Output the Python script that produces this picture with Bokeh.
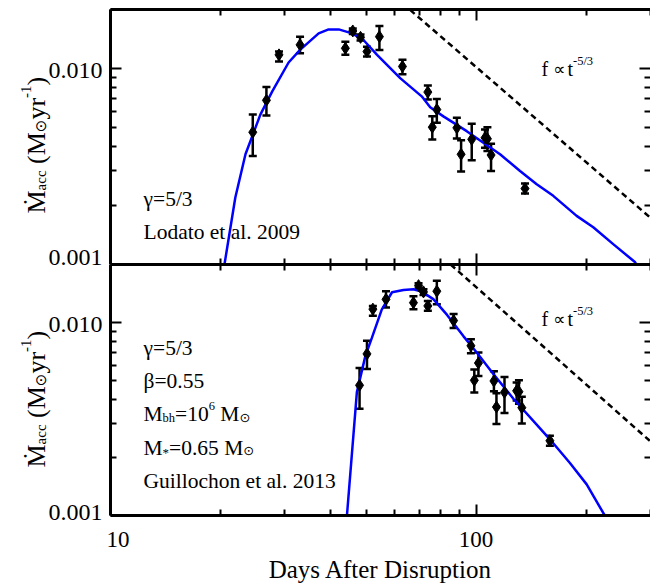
import math
from bokeh.plotting import figure
from bokeh.layouts import column, row
from bokeh.models import (Range1d, LogAxis, LogScale, FixedTicker, PrintfTickFormatter, Whisker,
                          TeeHead, ColumnDataSource, Label)
from bokeh.embed import file_html
from bokeh.resources import INLINE

# ---------------- data ----------------
days_top = [24.5, 26.7, 28.9, 33.0, 43.9, 46.0, 48.3, 50.3, 54.4, 62.9,
            73.8, 75.9, 78.1, 88.6, 91.0, 97.3, 105.8, 107.4, 109.9, 136.1]
days_bot = [48.0, 50.3, 52.2, 56.7, 67.4, 69.6, 71.8, 73.8, 78.1, 86.8,
            96.8, 98.9, 101.5, 111.9, 113.7, 119.6, 129.1, 131.0, 133.4, 159.2]
mdot_obs = [0.00473, 0.00688, 0.01174, 0.0132, 0.01268, 0.01554, 0.01442, 0.0122, 0.01454, 0.01024,
            0.00758, 0.00502, 0.00617, 0.00498, 0.00365, 0.00435, 0.00443, 0.00438, 0.00362, 0.00244]
mdot_hi = [0.00582, 0.00804, 0.0122, 0.01454, 0.01371, 0.0160, 0.0149, 0.01293, 0.01648, 0.01107,
           0.0082, 0.00571, 0.00699, 0.0056, 0.0043, 0.00522, 0.00489, 0.00502, 0.00413, 0.00259]
mdot_lo = [0.00358, 0.00575, 0.01085, 0.01196, 0.01174, 0.0150, 0.0139, 0.01151, 0.01244, 0.00936,
           0.00694, 0.00434, 0.00528, 0.0044, 0.00298, 0.0034, 0.00394, 0.00379, 0.003, 0.0023]

lodato_days = [20.35, 21.95, 23.4, 25.7, 27.7, 30.7, 33.0, 37.1, 39.5, 42.1, 45.8, 49.2, 53.6, 62.0,
               71.0, 74.9, 81.4, 94.3, 104.7, 116.3, 131.9, 146.5, 162.6, 188.4, 209.2, 237.2,
               271.9, 276.3]
lodato_mdot = [0.00092, 0.002196, 0.00365, 0.00582, 0.00764, 0.01073, 0.01245, 0.0151, 0.01583,
               0.01583, 0.0151, 0.01398, 0.01174, 0.00893, 0.00721, 0.00634, 0.0057, 0.00479,
               0.00418, 0.00365, 0.003, 0.00257, 0.00224, 0.00177, 0.00155, 0.00127, 0.00103,
               0.00098]

guil_days = [44.3, 47.2, 49.8, 51.9, 55.2, 58.9, 63.3, 67.4, 71.0, 76.4, 83.2, 92.3, 100.4,
             111.5, 126.5, 149.6, 162.6, 180.6, 200.7, 225.1, 228.0]
guil_mdot = [0.00098, 0.00436, 0.00672, 0.00835, 0.01166, 0.01436, 0.01476, 0.01488, 0.01447,
             0.01323, 0.01099, 0.00851, 0.00699, 0.00541, 0.00403, 0.00283, 0.00237, 0.00187,
             0.00145, 0.000997, 0.00093]

slope_top_days = [66.0, 300.0]
slope_top_mdot = [0.0199, 0.00173]
slope_bot_days = [85.2, 300.0]
slope_bot_mdot = [0.0200, 0.00242]

x_major = [10, 100]
x_minor = [20, 30, 40, 50, 60, 70, 80, 90, 200, 300]
x_tick_format = "%d"        # gives "10", "100"
y_major = [0.001, 0.01]
y_minor = [0.002, 0.003, 0.004, 0.005, 0.006, 0.007, 0.008, 0.009, 0.02]
y_tick_labels = ["0.001", "0.010"]
Y_LO, Y_HI = 0.001, 0.02
X_LO, X_HI = 10, 300

SERIF = "Liberation Serif"
SYM = "DejaVu Sans"

# ---------------- layout geometry (pixels) ----------------
TOTAL_H = 585
LEFT_W = 106                     # strip holding the y tick labels and y titles
FRAME_LEFT = 110
TOP_H, TOP_BT = 264, 9           # top panel canvas height / top border
BOT_H, BOT_BB = 321, 67          # bottom panel canvas height / bottom border

# advance widths (em) for placing sub/superscript pieces
W = {' ': 0.25, '(': 0.333, ')': 0.333, '-': 0.333, '.': 0.25, '/': 0.278, '=': 0.564,
     '*': 0.5, 'M': 0.889, '\u1e40': 0.889, 'a': 0.444, 'b': 0.5, 'c': 0.444, 'h': 0.5,
     'r': 0.333, 'y': 0.5, 't': 0.278, 'f': 0.333, '\u2299': 0.838, '\u221d': 0.838}
for _d in "0123456789":
    W[_d] = 0.5


def put(p, pieces, x, y, angle=0.0):
    """Place text pieces (text, size, baseline shift, font) one after another."""
    for txt, size, shift, font in pieces:
        lead = len(txt) - len(txt.lstrip(" "))
        adv_lead = W[' '] * size * lead
        if angle == 0:
            x += adv_lead
        else:
            y += adv_lead
        body = txt.strip(" ")
        if body:
            if angle == 0:
                lx, ly = x, y + shift
            else:
                lx, ly = x - shift, y
            p.add_layout(Label(x=lx, y=ly, x_units="screen", y_units="screen", text=body,
                               angle=angle, text_font=font, text_font_size=f"{size}px",
                               text_align="left", text_baseline="alphabetic",
                               text_color="black"))
        adv = sum(W.get(c, 0.5) for c in txt.lstrip(" ")) * size
        if angle == 0:
            x += adv
        else:
            y += adv


def style_axis(ax, ticks, minors, fmt, show_labels, line=True):
    ax.ticker = FixedTicker(ticks=ticks, minor_ticks=minors)
    ax.formatter = PrintfTickFormatter(format=fmt)
    ax.axis_line_width = 3
    ax.axis_line_color = "black" if line else None
    ax.major_tick_in = 11
    ax.major_tick_out = 0
    ax.minor_tick_in = 6
    ax.minor_tick_out = 0
    ax.major_tick_line_width = 2
    ax.minor_tick_line_width = 2
    ax.major_tick_line_color = "black"
    ax.minor_tick_line_color = "black"
    ax.major_label_text_font = SERIF
    ax.major_label_text_color = "black"
    if show_labels:
        ax.major_label_text_font_size = "23px"
    else:
        ax.major_label_text_font_size = "1px"
        ax.major_label_text_color = None
        ax.major_label_standoff = 0


def make_panel(height, b_top, b_bottom, show_x_labels):
    p = figure(width=650 - LEFT_W, height=height, x_axis_type="log", y_axis_type="log",
               x_range=Range1d(X_LO, X_HI), y_range=Range1d(Y_LO, Y_HI),
               output_backend="svg", toolbar_location=None,
               min_border_left=FRAME_LEFT - LEFT_W, min_border_right=0,
               min_border_top=b_top, min_border_bottom=b_bottom)
    p.outline_line_color = None
    p.xgrid.visible = False
    p.ygrid.visible = False
    top_ax = LogAxis()
    right_ax = LogAxis()
    p.add_layout(top_ax, "above")
    p.add_layout(right_ax, "right")
    style_axis(p.below[0], x_major, x_minor, x_tick_format, show_x_labels)
    style_axis(top_ax, x_major, x_minor, x_tick_format, False)
    style_axis(p.left[0], y_major, y_minor, "%.3f", False)
    style_axis(right_ax, y_major, y_minor, "%.3f", False, line=False)
    return p


def strip_range(frame_top, frame_bottom):
    """Log range of the full-height strip that matches a panel frame [frame_top, frame_bottom]."""
    dec = (frame_bottom - frame_top) / math.log10(Y_HI / Y_LO)
    hi = Y_HI * 10 ** (frame_top / dec)
    lo = Y_LO * 10 ** (-(TOTAL_H - frame_bottom) / dec)
    return Range1d(lo, hi)


strip = figure(width=LEFT_W, height=TOTAL_H, x_range=Range1d(0, LEFT_W),
               y_range=Range1d(0, TOTAL_H), output_backend="svg", toolbar_location=None,
               min_border_left=0, min_border_right=0, min_border_top=0, min_border_bottom=0,
               extra_y_ranges={"top": strip_range(TOP_BT, TOP_H),
                               "bot": strip_range(TOP_H, TOTAL_H - BOT_BB)},
               extra_y_scales={"top": LogScale(), "bot": LogScale()})
strip.outline_line_color = None
strip.xgrid.visible = False
strip.ygrid.visible = False
strip.xaxis.visible = False
strip.yaxis.visible = False


def ytick_labels(rng, offsets):
    for val, lab, off in zip(y_major, y_tick_labels, offsets):
        strip.add_layout(Label(x=LEFT_W - 4, y=val, x_units="data", y_units="data",
                               y_range_name=rng, text=lab, y_offset=off,
                               text_font=SERIF, text_font_size="24px",
                               text_align="right", text_baseline="middle", text_color="black"))


def ylabel(y_from_bottom):
    pieces = [("\u1e40", 26, 0, SERIF), ("acc", 15, -4, SERIF), (" (M", 26, 0, SERIF),
              ("\u2299", 15, -4, SYM), ("yr", 26, 0, SERIF), ("-1", 15, 11, SERIF),
              (")", 26, 0, SERIF)]
    put(strip, pieces, 36, y_from_bottom, angle=math.pi / 2)


def draw_data(p, days, cdays, cmdot, sdays, smdot):
    src = ColumnDataSource(dict(x=days, y=mdot_obs, hi=mdot_hi, lo=mdot_lo))
    p.add_layout(Whisker(source=src, base="x", upper="hi", lower="lo", dimension="height",
                         line_width=2.5, line_color="black",
                         upper_head=TeeHead(size=8, line_width=2.5, line_color="black"),
                         lower_head=TeeHead(size=8, line_width=2.5, line_color="black")))
    p.line(cdays, cmdot, line_color="#0000ff", line_width=2.5)
    p.scatter(x="x", y="y", source=src, marker="diamond", size=12,
              fill_color="black", line_color="black")
    p.line(sdays, smdot, line_color="black", line_width=2.5, line_dash="6 4")


def powerlaw(p, ybase):
    put(p, [("f ", 20, 0, SERIF), ("\u221d", 17, 0, SYM), ("t", 20, 0, SERIF),
            ("-5/3", 12.5, 8, SERIF)], 431, ybase)


# ---------------- top panel ----------------
top = make_panel(TOP_H, TOP_BT, 0, False)
draw_data(top, days_top, lodato_days, lodato_mdot, slope_top_days, slope_top_mdot)
put(top, [("\u03b3=5/3", 21.5, 0, SERIF)], 33, 66)
put(top, [("Lodato et al. 2009", 21.5, 0, SERIF)], 33, 33)
powerlaw(top, 196)
ytick_labels("top", [7, -2])
ylabel(TOTAL_H - 213)

# ---------------- bottom panel ----------------
bot = make_panel(BOT_H, 0, BOT_BB, True)
draw_data(bot, days_bot, guil_days, guil_mdot, slope_bot_days, slope_bot_mdot)
bot.below[0].major_label_standoff = 16
bot.below[0].axis_label = "Days After Disruption"
bot.below[0].axis_label_text_font = SERIF
bot.below[0].axis_label_text_font_size = "25px"
bot.below[0].axis_label_text_font_style = "normal"
bot.below[0].axis_label_text_color = "black"
bot.below[0].axis_label_standoff = 6
put(bot, [("\u03b3=5/3", 21.5, 0, SERIF)], 33, 168)
put(bot, [("\u03b2=0.55", 21.5, 0, SERIF)], 33, 134.7)
put(bot, [("M", 21.5, 0, SERIF), ("bh", 12.5, -4, SERIF), ("=10", 21.5, 0, SERIF),
          ("6", 12.5, 8, SERIF), (" M", 21.5, 0, SERIF), ("\u2299", 13, -3, SYM)], 33, 101.3)
put(bot, [("M", 21.5, 0, SERIF), ("*", 13, -5, SERIF), ("=0.65 M", 21.5, 0, SERIF),
          ("\u2299", 13, -3, SYM)], 33, 68)
put(bot, [("Guillochon et al. 2013", 21.5, 0, SERIF)], 33, 34.7)
powerlaw(bot, 197)
ytick_labels("bot", [6, -1])
ylabel(TOTAL_H - 467)

layout = row(strip, column(top, bot, spacing=0), spacing=0)
open("out.html", "w").write(file_html(layout, INLINE))
